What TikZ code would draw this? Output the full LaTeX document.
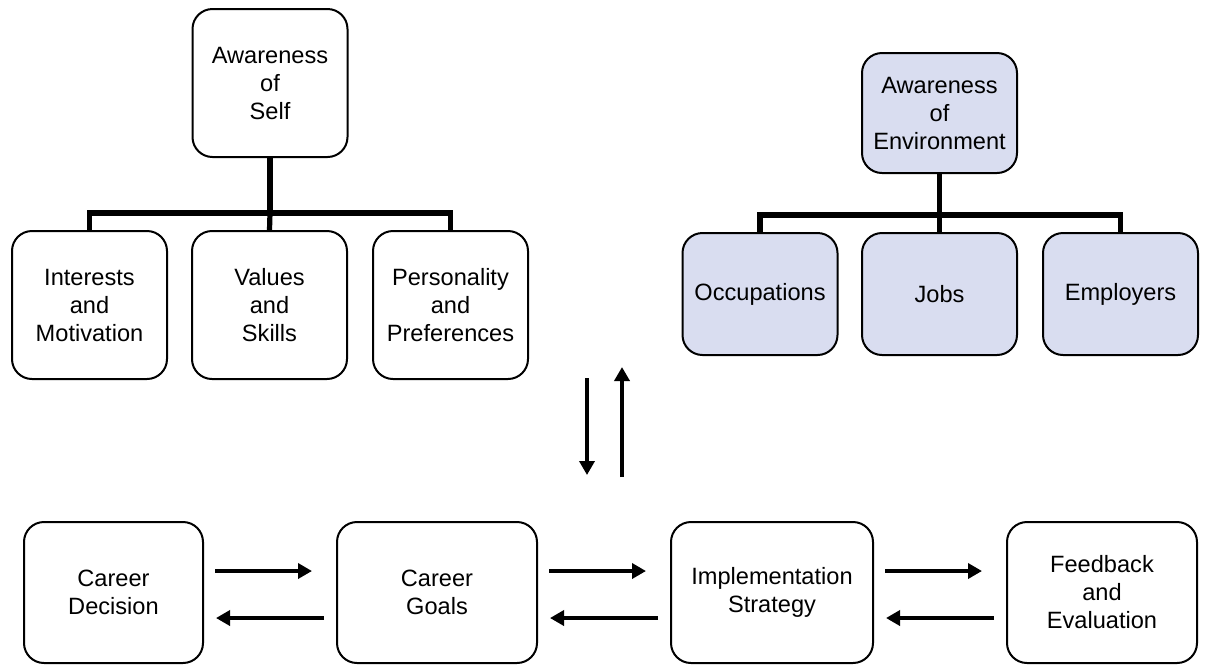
\documentclass[tikz,border=0pt]{standalone}
\usepackage{fontspec}
\setmainfont{Liberation Sans}
\usetikzlibrary{arrows.meta}
\definecolor{envblue}{RGB}{217,221,240}
\tikzset{
  box/.style={draw, line width=1pt, rounded corners=10pt, align=center,
    inner sep=0pt, font=\fontsize{11.8}{14}\selectfont},
  selfbox/.style={box, minimum width=77.5pt, minimum height=74pt},
  envbox/.style={box, fill=envblue, minimum width=77.5pt},
  stepbox/.style={box, minimum height=70.5pt},
  tree/.style={line width=2.6pt},
  arr/.style={line width=2pt, -{Triangle[length=7pt,width=7.5pt]}}
}
\begin{document}
\begin{tikzpicture}[x=0.5pt, y=-0.5pt]
    \useasboundingbox (0,0) rectangle (1209,666);
    % Self
    \node[selfbox] (self) at (270,83) {Awareness\\of\\Self};
    \node[selfbox] (interests) at (89.5,305) {Interests\\and\\Motivation};
    \node[selfbox] (values) at (269.5,305) {Values\\and\\Skills};
    \node[selfbox] (personality) at (450.5,305) {Personality\\and\\Preferences};
    \coordinate (selfbar) at (270,213);
    \draw[tree] (self) -- (selfbar);
    \draw[tree] (interests.north) |- (selfbar) -| (personality.north);
    \draw[tree] (values.north) -- (selfbar);
    % Environment
    \node[envbox, minimum height=60pt] (env) at (939.5,113) {Awareness\\of\\Environment};
    \node[envbox, minimum height=61pt] (occupations) at (760,294) {Occupations};
    \node[envbox, minimum height=61pt] (jobs) at (939.5,294) {Jobs};
    \node[envbox, minimum height=61pt] (employers) at (1120.5,294) {Employers};
    \coordinate (envbar) at (939.5,215);
    \draw[tree] (env) -- (envbar);
    \draw[tree] (occupations.north) |- (envbar) -| (employers.north);
    \draw[tree] (jobs.north) -- (envbar);
    % Between the rows
    \coordinate (downtop) at (587,378);
    \coordinate (downend) at (587,475);
    \coordinate (uptop) at (622,367);
    \coordinate (upend) at (622,477);
    \draw[arr] (downtop) -- (downend);
    \draw[arr] (upend) -- (uptop);
    % Steps
    \node[stepbox, minimum width=89.5pt] (decision) at (113.5,592.5) {Career\\Decision};
    \node[stepbox, minimum width=100pt] (goals) at (437,592.5) {Career\\Goals};
    \node[stepbox, minimum width=101pt] (strategy) at (772,592.5) {Implementation\\Strategy};
    \node[stepbox, minimum width=95pt] (feedback) at (1102,592.5) {Feedback\\and\\Evaluation};
    \foreach \a/\b in {decision/goals,goals/strategy,strategy/feedback} {
        \draw[arr, shorten <=5.5pt, shorten >=12pt] ([yshift=10.75pt]\a.east) -- ([yshift=10.75pt]\b.west);
        \draw[arr, shorten <=6pt, shorten >=6pt] ([yshift=-12.75pt]\b.west) -- ([yshift=-12.75pt]\a.east);
    }
\end{tikzpicture}
\end{document}
